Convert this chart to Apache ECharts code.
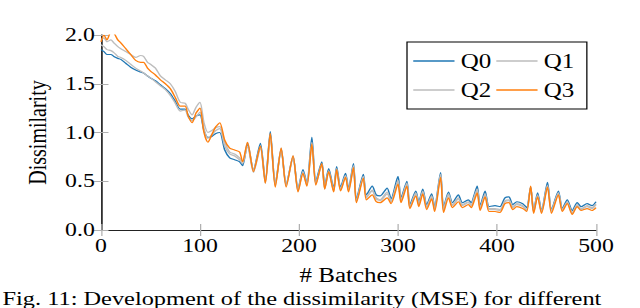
<!DOCTYPE html>
<html>
<head>
<meta charset="utf-8">
<script src="https://cdn.jsdelivr.net/npm/echarts@6/dist/echarts.min.js"></script>
<style>
html,body{margin:0;padding:0;background:#fff;overflow:hidden;}
#wrap{width:640px;height:308px;overflow:hidden;position:relative;}
#c{width:512px;height:308px;transform:scaleX(1.25);transform-origin:0 0;}
</style>
</head>
<body>
<div id="wrap"><div id="c"></div></div>
<script>
// ---- data ----
var batches = [0,3,6,10,13,17,20,25,30,35,40,43,47,50,55,60,65,70,75,80,85,88,92,96,100,104,108,112,116,120,125,130,135,140,143,
148,154,161,166,171,176,182,187,194,199,204,208,213,217,223,226,230,235,238,242,247,250,255,258,265,268,274,278,282,289,293,
300,303,309,312,318,321,325,329,334,337,343,346,351,355,361,365,371,374,377,380,383,388,392,398,403,408,412,416,420,426,430,
434,437,441,445,451,455,462,466,471,476,481,485,491,496,500];

var q0 = [1.85,1.83,1.80,1.80,1.78,1.76,1.75,1.71,1.67,1.64,1.62,1.61,1.58,1.56,1.53,1.49,1.45,1.40,1.32,1.24,1.24,1.18,1.14,1.17,1.18,1.02,0.95,0.96,0.99,1.00,0.82,0.74,0.72,0.70,0.66,
0.88,0.62,0.89,0.50,1.01,0.47,0.83,0.47,0.75,0.42,0.62,0.48,0.95,0.50,0.70,0.45,0.63,0.43,0.65,0.44,0.58,0.43,0.68,0.32,0.57,0.36,0.45,0.36,0.35,0.43,0.32,
0.55,0.33,0.50,0.26,0.40,0.29,0.42,0.26,0.37,0.24,0.59,0.23,0.39,0.28,0.36,0.28,0.31,0.28,0.36,0.45,0.25,0.40,0.24,0.25,0.24,0.33,0.34,0.26,0.29,0.27,0.23,
0.44,0.20,0.38,0.20,0.49,0.21,0.40,0.22,0.31,0.20,0.28,0.24,0.27,0.25,0.29];

var q1 = [1.95,1.97,1.93,1.95,1.92,1.88,1.86,1.83,1.80,1.77,1.79,1.78,1.72,1.70,1.66,1.58,1.54,1.50,1.42,1.31,1.30,1.24,1.18,1.26,1.31,1.10,1.00,1.02,1.05,1.06,0.90,0.80,0.78,0.74,0.70,
0.90,0.62,0.86,0.50,0.98,0.47,0.84,0.46,0.76,0.41,0.60,0.47,0.90,0.48,0.68,0.43,0.61,0.41,0.63,0.42,0.56,0.41,0.66,0.30,0.55,0.34,0.41,0.33,0.31,0.39,0.30,
0.51,0.31,0.48,0.24,0.38,0.27,0.40,0.24,0.35,0.22,0.57,0.21,0.37,0.26,0.33,0.26,0.29,0.26,0.34,0.42,0.23,0.37,0.22,0.22,0.21,0.30,0.31,0.24,0.27,0.25,0.21,
0.44,0.19,0.36,0.19,0.46,0.20,0.38,0.21,0.29,0.18,0.26,0.22,0.25,0.23,0.27];

var q2 = [1.90,1.88,1.85,1.84,1.82,1.78,1.77,1.74,1.70,1.66,1.63,1.61,1.58,1.56,1.52,1.48,1.44,1.38,1.30,1.22,1.23,1.16,1.12,1.16,1.21,1.04,0.94,0.98,1.02,1.04,0.86,0.78,0.76,0.72,0.68,
0.86,0.59,0.84,0.48,0.96,0.45,0.82,0.45,0.74,0.40,0.58,0.46,0.88,0.47,0.67,0.42,0.60,0.40,0.62,0.41,0.55,0.40,0.65,0.29,0.54,0.33,0.40,0.32,0.30,0.37,0.29,
0.50,0.30,0.47,0.23,0.37,0.26,0.39,0.23,0.34,0.21,0.56,0.20,0.36,0.25,0.32,0.25,0.28,0.25,0.33,0.41,0.22,0.36,0.21,0.21,0.20,0.29,0.30,0.23,0.26,0.24,0.20,
0.43,0.18,0.35,0.18,0.45,0.19,0.37,0.20,0.28,0.17,0.25,0.21,0.24,0.22,0.26];

var q3 = [1.93,2.00,1.95,2.03,2.02,1.95,1.92,1.86,1.80,1.74,1.72,1.72,1.66,1.63,1.59,1.54,1.50,1.45,1.36,1.27,1.27,1.17,1.10,1.20,1.25,1.00,0.90,0.98,1.06,1.10,0.92,0.84,0.82,0.80,0.70,
0.90,0.60,0.86,0.48,0.99,0.44,0.84,0.44,0.76,0.39,0.58,0.45,0.88,0.46,0.68,0.42,0.60,0.39,0.62,0.40,0.54,0.39,0.64,0.28,0.53,0.31,0.36,0.29,0.28,0.33,0.27,
0.47,0.28,0.45,0.22,0.35,0.24,0.37,0.21,0.32,0.19,0.54,0.18,0.33,0.23,0.29,0.23,0.26,0.23,0.30,0.38,0.20,0.34,0.19,0.19,0.18,0.27,0.28,0.21,0.24,0.22,0.19,
0.45,0.17,0.34,0.17,0.44,0.17,0.36,0.19,0.27,0.16,0.24,0.20,0.22,0.20,0.23];

var seriesNames = ['Q0','Q1','Q2','Q3'];
var seriesColors = ['#1f77b4','#bdbdbd','#bdbdbd','#ff7f0e'];
var xTicks = [0,100,200,300,400,500];
var yTicks = [0,0.5,1.0,1.5,2.0];

function pairs(ys){ return batches.map(function(b,i){ return [b, ys[i]]; }); }

var font = '"Liberation Serif","DejaVu Serif",serif';
var chart = echarts.init(document.getElementById('c'), null, {renderer:'svg', width:512, height:308});
var values = [q0,q1,q2,q3];

var axisCommon = {
  axisLine:{show:true, lineStyle:{color:'#222', width:1}},
  axisTick:{show:true, inside:true, length:6, lineStyle:{color:'#b0b0b0', width:1}},
  splitLine:{show:false}
};

chart.setOption({
  animation:false,
  backgroundColor:'#fff',
  grid:{left:80.8, right:35.2, top:35, bottom:78, containLabel:false},
  legend:{
    data:seriesNames,
    left:325.6, top:42, width:132,
    orient:'horizontal',
    icon:'rect',
    itemWidth:33, itemHeight:1.6, itemGap:4,
    padding:[6.5,10,6.5,5],
    borderColor:'#000', borderWidth:1, borderRadius:0,
    backgroundColor:'#fff',
    textStyle:{fontFamily:font, fontSize:20, color:'#000', lineHeight:25}
  },
  xAxis:[
    Object.assign({type:'value', min:0, max:500, interval:100, position:'bottom',
      name:'# Batches', nameLocation:'middle', nameGap:35,
      nameTextStyle:{fontFamily:font, fontSize:20, color:'#000', lineHeight:20},
      axisLabel:{fontFamily:font, fontSize:19, color:'#000', margin:6,
        formatter:function(v){ return xTicks.indexOf(v)>=0 ? String(v) : ''; }}}, axisCommon),
    Object.assign({type:'value', min:0, max:500, interval:100, position:'top',
      axisLabel:{show:false}}, axisCommon)
  ],
  yAxis:[
    Object.assign({type:'value', min:0, max:2, interval:0.5, position:'left',
      name:'Dissimilarity', nameLocation:'middle', nameGap:41, nameRotate:90,
      nameTextStyle:{fontFamily:font, fontSize:20, color:'#000'},
      axisLabel:{fontFamily:font, fontSize:19, color:'#000', margin:5,
        formatter:function(v){ return v.toFixed(1); }}}, axisCommon),
    Object.assign({type:'value', min:0, max:2, interval:0.5, position:'right',
      axisLabel:{show:false}}, axisCommon)
  ],
  series: seriesNames.map(function(n,i){
    return {name:n, type:'line', data:pairs(values[i]), symbol:'none', smooth:0.25,
      lineStyle:{color:seriesColors[i], width:1.2}, itemStyle:{color:seriesColors[i]},
      clip:true, z:2+i};
  }),
  graphic:[
    {type:'text', left:2, bottom:0, style:{text:'Fig. 11: Development of the dissimilarity (MSE) for different', font:'19.5px '+font, fill:'#000', lineHeight:19}}
  ]
});
</script>
</body>
</html>
